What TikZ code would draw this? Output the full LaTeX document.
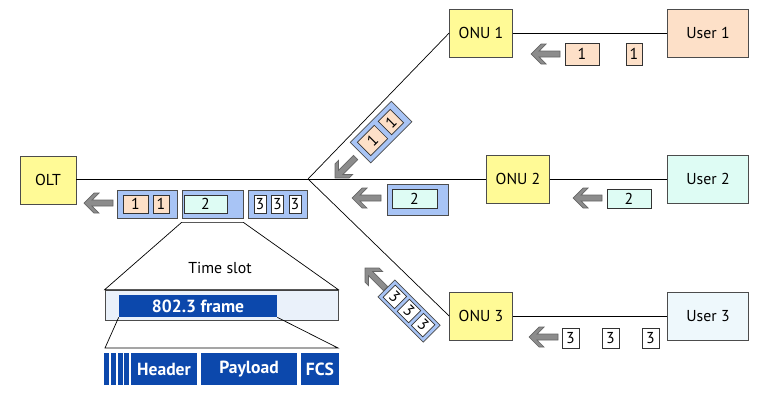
\documentclass[tikz,border=0pt]{standalone}
\usepackage{fontspec}
\setmainfont{PT Sans}
\usetikzlibrary{arrows.meta,calc,positioning}

\definecolor{onuyellow}{RGB}{255,250,150}
\definecolor{userorange}{RGB}{253,224,200}
\definecolor{usermint}{RGB}{222,252,244}
\definecolor{userpale}{RGB}{238,248,252}
\definecolor{framebg}{RGB}{168,196,245}
\definecolor{framedark}{RGB}{12,72,172}
\definecolor{slotbg}{RGB}{234,241,250}
\definecolor{arrowgray}{RGB}{140,140,140}

\tikzset{
  dev/.style={draw=black!70, fill=onuyellow, minimum height=0.96cm, inner sep=0pt},
  user/.style={draw=black!70, minimum width=1.62cm, minimum height=0.96cm, inner sep=0pt},
  pk/.style={draw=black!80, inner sep=0pt, minimum height=0.44cm},
  burst/.style={draw=black!70, fill=framebg, inner sep=0pt},
  fblock/.style={fill=framedark, text=white, font=\bfseries, inner sep=0pt, minimum height=0.64cm},
  larr/.pic={\draw[fill=arrowgray, draw=black!60, line join=miter]
    (0,0) -- (10,-10) -- (15,-10) -- (8,-3) -- (29,-3) -- (29,3) -- (8,3) -- (15,10) -- (10,10) -- cycle;}
}

\begin{document}
\begin{tikzpicture}[x=0.02cm, y=-0.02cm, font=\fontsize{9}{11}\selectfont]
\useasboundingbox (0,0) rectangle (770,403);

% devices
\node[dev, minimum width=1.12cm] (olt) at (48,180) {OLT};
\node[dev, minimum width=1.26cm] (onu1) at (481,33) {ONU 1};
\node[dev, minimum width=1.26cm] (onu2) at (518,179) {ONU 2};
\node[dev, minimum width=1.26cm] (onu3) at (481,316) {ONU 3};
\node[user, fill=userorange] (user1) at (708,33) {User 1};
\node[user, fill=usermint] (user2) at (708,179) {User 2};
\node[user, fill=userpale] (user3) at (708,316) {User 3};
\coordinate (split) at (308,179);

% fibres
\draw (olt.east |- split) -- (split);
\draw (split) -- (onu1.west);
\draw (split) -- (onu2.west);
\draw (split) -- (onu3.west);
\draw (onu1) -- (user1);
\draw (onu2) -- (user2);
\draw (onu3) -- (user3);

% upstream packets from the users
\node[pk, fill=userorange, minimum width=0.68cm] (p1a) at (582,54) {1};
\node[pk, fill=userorange, minimum width=0.32cm] (p1b) at (634,54) {1};
\pic at (531,54) {larr};
\node[pk, fill=usermint, minimum width=0.88cm, minimum height=0.38cm] (p2a) at (629,198.5) {2};
\pic at (573,198) {larr};
\foreach \x/\n in {570.5/a,610.5/b,650.5/c}
  \node[pk, fill=white, minimum width=0.34cm, minimum height=0.40cm] (p3\n) at (\x,338) {3};
\pic at (529,337) {larr};

% after the splitter
\node[burst, minimum width=1.22cm, minimum height=0.62cm] (s2) at (417.5,199.5) {};
\node[pk, fill=usermint, minimum width=0.9cm, minimum height=0.38cm] (s2a) at (414.5,198.5) {2};
\pic at (352,198) {larr};

\begin{scope}[shift={(381,132)}, rotate=45, transform shape]
\node[burst, minimum width=1.16cm, minimum height=0.58cm] (s1) at (0,0) {};
\node[pk, fill=userorange, minimum width=0.48cm, minimum height=0.38cm] (s1a) at (-12,0) {1};
\node[pk, fill=userorange, minimum width=0.34cm, minimum height=0.38cm] (s1b) at (14,0) {1};
\end{scope}
\pic[rotate=45] at (335,178) {larr};

\begin{scope}[shift={(409,311)}, rotate=-45, transform shape]
\node[burst, minimum width=1.28cm, minimum height=0.48cm] (s3) at (0,0) {};
\foreach \x/\n in {-20/a,0/b,20/c}
  \node[pk, fill=white, minimum width=0.32cm, minimum height=0.34cm] (s3\n) at (\x,0) {3};
\end{scope}
\pic[rotate=-45] at (365,268) {larr};

% the train at the OLT
\node[burst, minimum width=1.2cm, minimum height=0.56cm] (f1) at (147,204) {};
\node[pk, fill=userorange, minimum width=0.5cm, minimum height=0.36cm] (f1a) at (135.5,204) {1};
\node[pk, fill=userorange, minimum width=0.32cm, minimum height=0.36cm] (f1b) at (161,204) {1};
\node[burst, minimum width=1.22cm, minimum height=0.56cm] (f2) at (212.5,204) {};
\node[pk, fill=usermint, minimum width=0.86cm, minimum height=0.36cm] (f2a) at (205.5,204) {2};
\node[burst, minimum width=1.18cm, minimum height=0.56cm] (f3) at (277.5,204) {};
\foreach \x/\n in {260/a,277.5/b,295/c}
  \node[pk, fill=white, minimum width=0.24cm, minimum height=0.36cm] (f3\n) at (\x,204) {3};
\pic at (84,203) {larr};

% time slot
\node[draw=black!70, fill=slotbg, minimum width=4.66cm, minimum height=0.6cm, inner sep=0pt] (slot) at (221.5,305) {};
\draw[fill=white] ($(f2.south west)+(0,4)$) -- (slot.north west) -- (slot.north east) -- ($(f2.south east)+(0,4)$) -- cycle;
\node (tslot) at (220,268) {Time slot};
\node[fblock, minimum width=3.16cm, minimum height=0.44cm] (frame) at (198,306) {802.3 frame};

% frame layout
\draw (frame.south west) -- (105,348) -- (338,348) -- (frame.south east);
\foreach \x in {106,113,120,126}
  \node[fblock, minimum width=0.1cm] at (\x,369) {};
\node[fblock, minimum width=1.32cm] (hdr) at (164,369) {Header};
\node[fblock, minimum width=1.92cm] (pay) at (249,369) {Payload};
\node[fblock, minimum width=0.76cm] (fcs) at (320,369) {FCS};
\end{tikzpicture}
\end{document}
